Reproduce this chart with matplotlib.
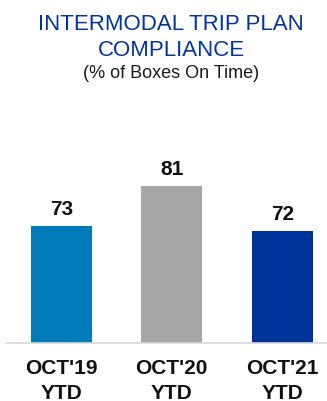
import matplotlib
matplotlib.use('Agg')
import matplotlib.pyplot as plt

# data
categories = ["OCT'19\nYTD", "OCT'20\nYTD", "OCT'21\nYTD"]
values = [73, 81, 72]
colors = ['#007AB9', '#A6A6A6', '#003399']

fig = plt.figure(figsize=(3.27, 4.02), dpi=100)
W, H = 327, 402

# axes placed in pixel terms
ax = fig.add_axes([6 / W, (H - 344) / H, 321 / W, 224 / H])
x = range(len(values))
bars = ax.bar(x, values, width=0.55, color=colors)
ax.set_xlim(-0.5, -0.5 + 321 / 110.5)
ax.set_ylim(49.6, 94.4)

for b, v in zip(bars, values):
    ax.text(b.get_x() + b.get_width() / 2, v + 1.6, str(v), ha='center', va='bottom',
            fontsize=15, fontweight='bold', family='Liberation Sans', color='#111111')

ax.set_xticks(list(x))
ax.set_xticklabels(categories, fontsize=15, fontweight='bold', family='Liberation Sans',
                   color='#111111', linespacing=1.35)
ax.tick_params(axis='x', length=0, pad=11)
ax.set_yticks([])
for s in ['top', 'right', 'left']:
    ax.spines[s].set_visible(False)
ax.spines['bottom'].set_color('#D9D9D9')
ax.spines['bottom'].set_linewidth(1.2)

# titles
fig.text(171 / W, 1 - 24 / H, 'INTERMODAL TRIP PLAN', ha='center', va='center',
         fontsize=16, family='Liberation Sans', color='#0033A0')
fig.text(171 / W, 1 - 50 / H, 'COMPLIANCE', ha='center', va='center',
         fontsize=16, family='Liberation Sans', color='#0033A0')
fig.text(171 / W, 1 - 73 / H, '(% of Boxes On Time)', ha='center', va='center',
         fontsize=13, family='Liberation Sans', color='#1A1A1A')

plt.savefig('out.png', dpi=100)
